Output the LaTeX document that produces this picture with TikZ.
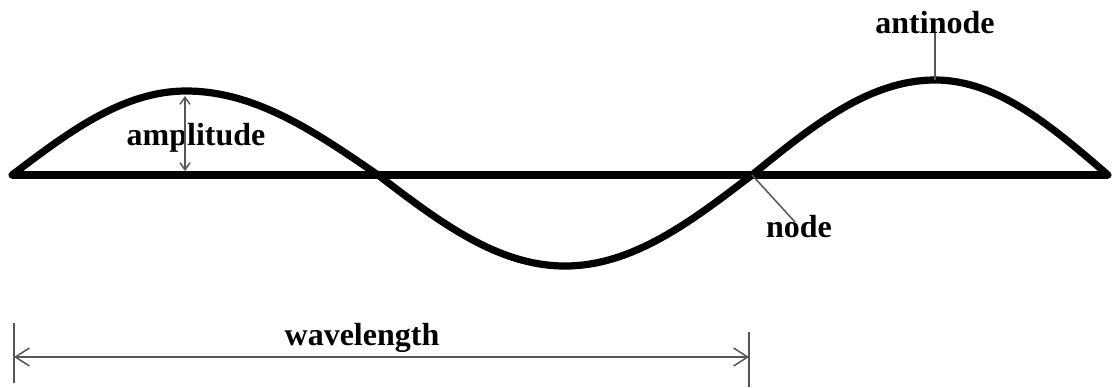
\documentclass[tikz,border=0pt]{standalone}
\usepackage{fontspec}
\setmainfont{Liberation Serif}
\usetikzlibrary{arrows.meta}
\definecolor{leadgray}{RGB}{85,85,85}
\tikzset{
  wave/.style     = {line width=3.6pt, line cap=round, line join=round},
  axisline/.style = {line width=4pt},
  leader/.style   = {draw=leadgray, line width=0.75pt},
  dimarrow/.style = {leader, {Straight Barb[length=7pt,width=9pt]}-{Straight Barb[length=7pt,width=9pt]}},
  amparrow/.style = {leader, {Straight Barb[length=3.5pt,width=5pt]}-{Straight Barb[length=3.5pt,width=5pt]}},
  lbl/.style      = {font=\fontsize{16}{19}\selectfont\bfseries, inner sep=0pt, anchor=base},
}

\begin{document}
\begin{tikzpicture}[x=0.5pt, y=-0.5pt]
  \useasboundingbox (0,0) rectangle (1112,387);
  % points on the wave
  \coordinate (w0) at (12,175);
  \coordinate (crest1) at (186,91);
  \coordinate (w1) at (378,175);
  \coordinate (trough) at (565,266);
  \coordinate (w2) at (752,175);
  \coordinate (crest2) at (935,80);
  \coordinate (w3) at (1108,175);
  % axis and wave
  \draw[axisline] (w0) -- (w3);
  \draw[wave] (w0) sin (crest1) cos (w1) sin (trough) cos (w2) sin (crest2) cos (w3);
  % labels
  \node[lbl] (amplbl) at (196,145) {amplitude};
  \node[lbl] (antilbl) at (935,33) {antinode};
  \node[lbl] (nodelbl) at (799,237) {node};
  \node[lbl] (wavelbl) at (362,345) {wavelength};
  % amplitude arrow
  \coordinate (amptop) at (185,96);
  \coordinate (ampbot) at (185,171);
  \draw[amparrow] (amptop) -- (ampbot);
  % leader lines
  \coordinate (nodetip) at (795,222);
  \draw[leader] (antilbl.base) -- (crest2);
  \draw[leader] (w2) -- (nodetip);
  % wavelength
  \coordinate (wlL) at (14,357);
  \coordinate (wlR) at (749,357);
  \draw[leader] (14,323) -- (14,383);
  \draw[leader] (749,332) -- (749,387);
  \draw[dimarrow] (wlL) -- (wlR);
\end{tikzpicture}
\end{document}
